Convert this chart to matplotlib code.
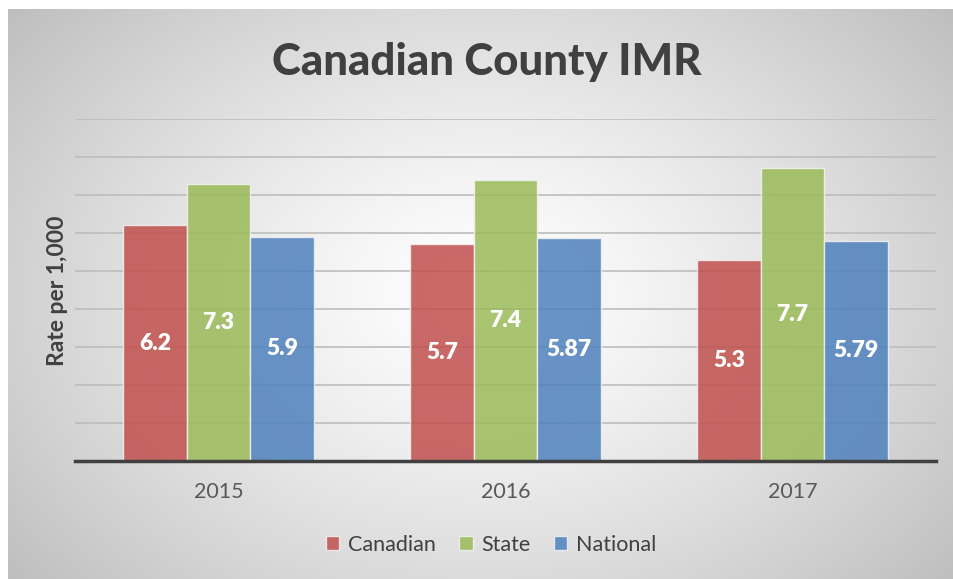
import matplotlib
matplotlib.use("Agg")
import matplotlib.pyplot as plt
import numpy as np
from matplotlib import font_manager

years = ["2015", "2016", "2017"]
series_names = ["Canadian", "State", "National"]
canadian = [6.2, 5.7, 5.3]
state = [7.3, 7.4, 7.7]
national = [5.9, 5.87, 5.79]
canadian_labels = ["6.2", "5.7", "5.3"]
state_labels = ["7.3", "7.4", "7.7"]
national_labels = ["5.9", "5.87", "5.79"]

colors = ["#C0504D", "#9BBB59", "#4F81BD"]

avail = {f.name for f in font_manager.fontManager.ttflist}
body_font = "Lato" if "Lato" in avail else "DejaVu Sans"
title_font = body_font

W, H = 954, 579
fig = plt.figure(figsize=(W / 100, H / 100), dpi=100)
fig.patch.set_facecolor("white")

# background gradient panel
bx0, by0 = 8, 9
bg = fig.add_axes([bx0 / W, 0, (W - bx0) / W, (H - by0) / H], zorder=-5)
ny, nx = 300, 500
yy, xx = np.mgrid[0:ny, 0:nx]
cx, cy = 0.50 * nx, 0.50 * ny
r = np.sqrt(((xx - cx) / (0.62 * nx)) ** 2 + ((yy - cy) / (0.75 * ny)) ** 2)
val = 1.0 - 0.24 * np.clip(r, 0, 1.2) ** 1.3
img = np.dstack([val, val, val])
bg.imshow(img, aspect="auto", extent=[0, 1, 0, 1], interpolation="bilinear")
bg.set_axis_off()

ax = fig.add_axes([75 / W, (H - 461) / H, (936 - 75) / W, (461 - 119) / H])
ax.patch.set_alpha(0)

x = np.arange(len(years))
bw = 0.222
all_vals = [canadian, state, national]
all_labels = [canadian_labels, state_labels, national_labels]
for i, (vals, labs, c, name) in enumerate(zip(all_vals, all_labels, colors, series_names)):
    pos = x + (i - 1) * bw
    ax.bar(pos, vals, width=bw, color=c, alpha=0.85, edgecolor="#F2F2F2",
           linewidth=1.0, label=name, zorder=3)
    for p, v, lab in zip(pos, vals, labs):
        ax.text(p, v / 2, lab, ha="center", va="center", color="white",
                fontsize=16.5, fontweight="heavy", family=body_font, zorder=4)

ax.set_xlim(-0.5, 2.5)
ax.set_ylim(0, 9)
ax.set_yticks(np.arange(0, 10, 1))
ax.yaxis.grid(True, color="#BDBDBD", linewidth=1.2, zorder=0)
ax.set_axisbelow(True)
ax.tick_params(axis="y", length=0, labelleft=False)
ax.tick_params(axis="x", length=0, pad=15, labelsize=15.5, labelcolor="#595959")
ax.set_xticks(x)
ax.set_xticklabels(years, family=body_font)
for s in ["top", "right", "left"]:
    ax.spines[s].set_visible(False)
ax.spines["bottom"].set_color("#404040")
ax.spines["bottom"].set_linewidth(2.5)
ax.spines["bottom"].set_zorder(5)

fig.text(58 / W, 1 - 291 / H, "Rate per 1,000", rotation=90, ha="center", va="center",
         fontsize=16.5, fontweight="bold", color="#404040", family=body_font)

fig.text(487 / W, 1 - 62 / H, "Canadian County IMR", ha="center", va="center",
         fontsize=31.5, fontweight="black", color="#404040", family=title_font)

leg = ax.legend(loc="center", bbox_to_anchor=(491 / W, 1 - 545 / H),
                bbox_transform=fig.transFigure, ncol=3, frameon=False,
                prop={"family": body_font, "size": 15.5}, handlelength=0.62,
                handleheight=0.62, columnspacing=1.1, handletextpad=0.4)
for t in leg.get_texts():
    t.set_color("#404040")

fig.savefig("out.png", dpi=100, facecolor=fig.get_facecolor())
